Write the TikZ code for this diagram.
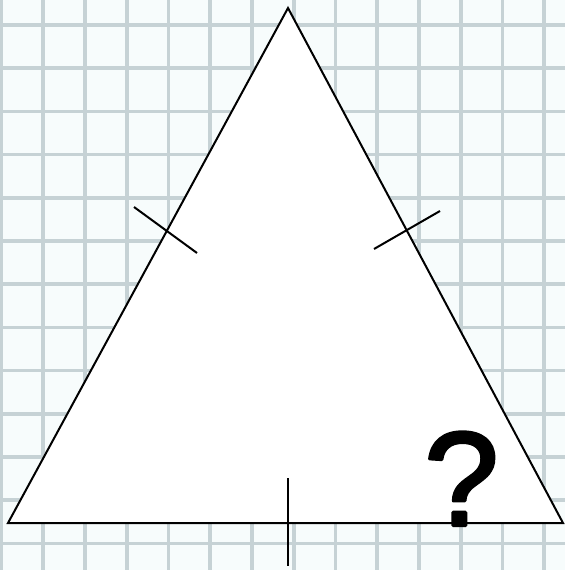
\documentclass[tikz,border=0pt]{standalone}
\usepackage{fontspec}
\setmainfont{Liberation Sans}
\definecolor{paper}{RGB}{247,252,252}
\definecolor{gridc}{RGB}{198,210,213}
\newcommand{\fakebold}[1]{\special{pdf:literal direct 2 Tr 3.2 w 1 j}#1\special{pdf:literal direct 0 Tr 1 w 0 j}}
\begin{document}
\begin{tikzpicture}[x=1pt,y=-1pt,
  gridline/.style={draw=gridc,line width=3.6pt},
  edge/.style={draw=black,line width=2pt,line join=miter},
  tick/.style={draw=black,line width=2pt}]
\fill[paper] (0,0) rectangle (565,570);
\useasboundingbox (0,0) rectangle (565,570);
\foreach \k in {0,...,13} {\draw[gridline] (1.5+41.75*\k,0) -- (1.5+41.75*\k,570);}
\foreach \k in {0,...,13} {\draw[gridline] (0,25+43.2*\k) -- (565,25+43.2*\k);}
\coordinate (A) at (288,8);
\coordinate (B) at (8,523);
\coordinate (C) at (563,523);
\filldraw[edge,fill=white] (A) -- (B) -- (C) -- cycle;
\coordinate (t1a) at (134,207); \coordinate (t1b) at (197,253);
\coordinate (t2a) at (374,249); \coordinate (t2b) at (440,211);
\coordinate (t3a) at (288,478); \coordinate (t3b) at (288,566);
\draw[tick] (t1a) -- (t1b);
\draw[tick] (t2a) -- (t2b);
\draw[tick] (t3a) -- (t3b);
\node[anchor=base,inner sep=0pt,font=\fontsize{134}{134}\selectfont] (q) at (461.5,525.5) {\fakebold{?}};
\end{tikzpicture}
\end{document}
